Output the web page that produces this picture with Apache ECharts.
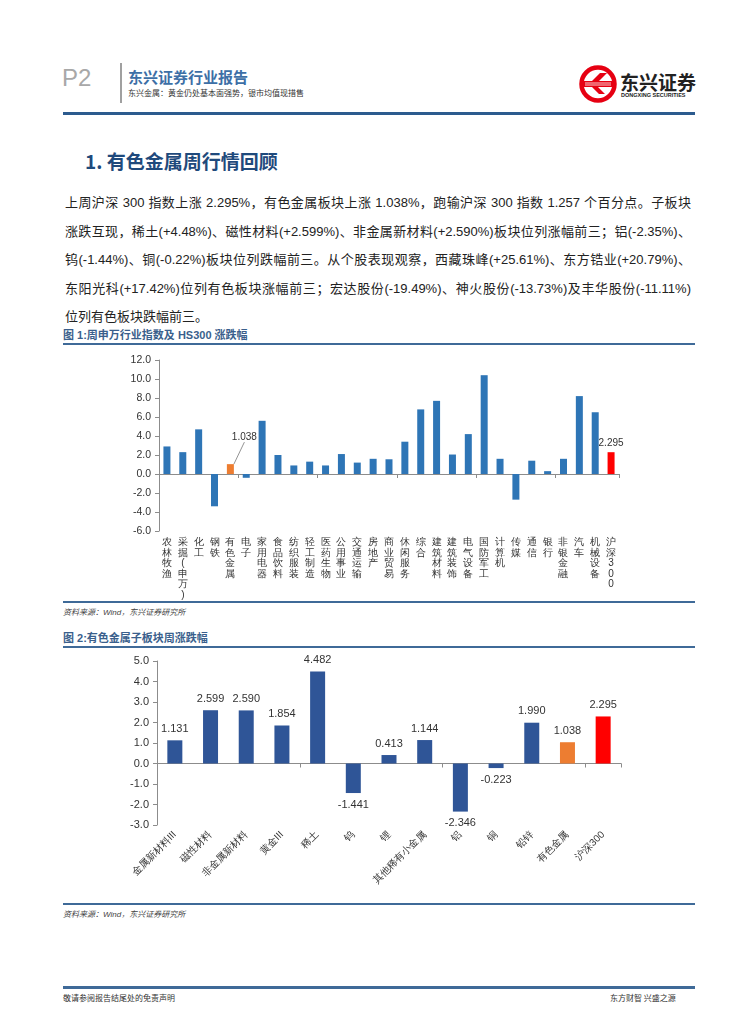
<!DOCTYPE html>
<html><head><meta charset="utf-8">
<script src="https://cdn.jsdelivr.net/npm/echarts@6/dist/echarts.min.js"></script>
<style>
html,body{margin:0;padding:0;background:#fff;}
body{width:755px;height:1024px;position:relative;overflow:hidden;font-family:"Noto Sans CJK SC","Liberation Sans",sans-serif;color:#222;}
.abs{position:absolute;}
.pline{position:absolute;left:65px;width:626px;font-size:13px;line-height:16px;text-align:justify;text-align-last:justify;white-space:nowrap;font-family:"Liberation Sans","Noto Sans CJK SC",sans-serif;color:#222;}
.pline.last{text-align-last:left;}
.ftitle{position:absolute;left:63px;font-size:11px;font-weight:bold;color:#3A5F8C;font-family:"Liberation Sans","Noto Sans CJK SC",sans-serif;}
.hr{position:absolute;left:63px;width:632px;background:#3F6A98;}
.src{position:absolute;left:63px;font-size:8px;font-style:italic;color:#444;font-family:"Liberation Sans","Noto Sans CJK SC",sans-serif;}
</style></head>
<body>
<!-- header -->
<div class="abs" style="left:62px;top:64px;font-size:24px;color:#a8a8a8;font-family:'Liberation Sans',sans-serif;">P2</div>
<div class="abs" style="left:120px;top:63px;width:2px;height:40px;background:#a0a0a0;"></div>
<div class="abs" style="left:128px;top:66px;font-size:15px;font-weight:bold;color:#3D6FA6;">东兴证券行业报告</div>
<div class="abs" style="left:128px;top:87px;font-size:8px;color:#333;">东兴金属：黄金仍处基本面强势，银市均值现措售</div>
<svg class="abs" style="left:577px;top:63px;" width="42" height="42" viewBox="0 0 42 42">
  <circle cx="21" cy="21" r="16.5" fill="#fff" stroke="#E60012" stroke-width="4.5"/>
  <path d="M6 18 L15 18 L23 10 L30 10 L22 18 L36 18 L36 24 L21 24 L28 31 L22 31 L15 24 L6 24 Z" fill="#E60012"/>
  <path d="M8 20 L34 20 M8 22 L34 22" stroke="#fff" stroke-width="0.8"/>
</svg>
<div class="abs" style="left:620px;top:68px;font-size:19px;font-weight:bold;color:#222;">东兴证券</div>
<div class="abs" style="left:621px;top:92px;font-size:5.5px;font-weight:bold;color:#222;font-family:'Liberation Sans',sans-serif;">DONGXING SECURITIES</div>
<div class="abs" style="left:63px;top:112px;width:632px;height:3px;background:#2C5B8E;"></div>

<!-- heading -->
<div class="abs" style="left:85px;top:147px;font-size:19px;font-weight:bold;color:#1F4A7C;">1. 有色金属周行情回顾</div>

<!-- paragraph -->
<div class="pline" style="top:195px;">上周沪深 300 指数上涨 2.295%，有色金属板块上涨 1.038%，跑输沪深 300 指数 1.257 个百分点。子板块</div>
<div class="pline" style="top:224px;">涨跌互现，稀土(+4.48%)、磁性材料(+2.599%)、非金属新材料(+2.590%)板块位列涨幅前三；铝(-2.35%)、</div>
<div class="pline" style="top:252px;">钨(-1.44%)、铜(-0.22%)板块位列跌幅前三。从个股表现观察，西藏珠峰(+25.61%)、东方锆业(+20.79%)、</div>
<div class="pline" style="top:281px;">东阳光科(+17.42%)位列有色板块涨幅前三；宏达股份(-19.49%)、神火股份(-13.73%)及丰华股份(-11.11%)</div>
<div class="pline last" style="top:309px;">位列有色板块跌幅前三。</div>

<!-- figure 1 -->
<div class="ftitle" style="top:326px;">图 1:周申万行业指数及 HS300 涨跌幅</div>
<div class="hr" style="top:343px;height:2px;"></div>
<div id="c1" class="abs" style="left:0;top:345px;width:755px;height:256px;"></div>
<div class="hr" style="top:601px;height:2px;"></div>
<div class="src" style="top:606px;">资料来源：Wind，东兴证券研究所</div>

<!-- figure 2 -->
<div class="ftitle" style="top:629px;">图 2:有色金属子板块周涨跌幅</div>
<div class="hr" style="top:646px;height:2px;"></div>
<div id="c2" class="abs" style="left:0;top:648px;width:755px;height:255px;"></div>
<div class="hr" style="top:903px;height:2px;"></div>
<div class="src" style="top:908px;">资料来源：Wind，东兴证券研究所</div>

<!-- footer -->
<div class="abs" style="left:63px;top:986px;width:632px;height:3px;background:#3F6A98;"></div>
<div class="abs" style="left:63px;top:992px;font-size:8px;color:#333;">敬请参阅报告结尾处的免责声明</div>
<div class="abs" style="left:610px;top:992px;font-size:8px;color:#333;">东方财智 兴盛之源</div>

<script>
// ---------- Figure 1 data ----------
var industryNames = ['农林牧渔','采掘(申万)','化工','钢铁','有色金属','电子','家用电器','食品饮料','纺织服装','轻工制造','医药生物','公用事业','交通运输','房地产','商业贸易','休闲服务','综合','建筑材料','建筑装饰','电气设备','国防军工','计算机','传媒','通信','银行','非银金融','汽车','机械设备','沪深300'];
var industryValues = [2.9, 2.3, 4.7, -3.4, 1.038, -0.4, 5.6, 2.0, 0.9, 1.3, 0.9, 2.1, 1.2, 1.6, 1.55, 3.4, 6.8, 7.7, 2.05, 4.2, 10.4, 1.6, -2.7, 1.4, 0.3, 1.6, 8.2, 6.5, 2.295];
var fig1LabelNames = ['有色金属','沪深300'];
var fig1Ticks = {min: -6, max: 12, interval: 2};

// ---------- Figure 2 data ----------
var subNames = ['金属新材料III','磁性材料','非金属新材料','黄金III','稀土','钨','锂','其他稀有小金属','铝','铜','铅锌','有色金属','沪深300'];
var subValues = [1.131, 2.599, 2.590, 1.854, 4.482, -1.441, 0.413, 1.144, -2.346, -0.223, 1.990, 1.038, 2.295];
var fig2Ticks = {min: -3, max: 5, interval: 1};

var C_BLUE1 = '#2E75B6', C_BLUE2 = '#2F5597', C_ORANGE = '#ED7D31', C_RED = '#FF0000';
function colorFor(name, base){ return name === '有色金属' ? C_ORANGE : (name === '沪深300' ? C_RED : base); }

var txt = '#333';
var axisCol = '#8c8c8c';

// ----- chart 1 -----
var c1 = echarts.init(document.getElementById('c1'), null, {renderer:'canvas'});
var d1 = industryValues.map(function(v,i){
  var n = industryNames[i];
  var item = {value:v, itemStyle:{color:colorFor(n, C_BLUE1)}};
  if (fig1LabelNames.indexOf(n) >= 0) {
    item.label = {show:true, position:'top', distance:4, formatter:function(p){return p.value.toFixed(3);}, fontSize:10, color:txt, fontFamily:'Liberation Sans'};
    if (n === '有色金属') item.labelLine = {show:true, lineStyle:{color:'#777', width:0.8}};
  }
  return item;
});
c1.setOption({
  animation:false,
  grid:{left:159, top:15, width:460, height:171},
  xAxis:[
    {type:'category', data:industryNames, axisLine:{onZero:true, lineStyle:{color:axisCol}}, axisTick:{show:true, length:4, lineStyle:{color:axisCol}}, axisLabel:{show:false}},
    {type:'category', data:industryNames, position:'bottom', axisLine:{show:false}, axisTick:{show:false},
      axisLabel:{interval:0, margin:6, fontSize:10, lineHeight:10.5, color:txt, verticalAlign:'top',
        formatter:function(v){return v.split('').join('\n');}}}
  ],
  yAxis:{type:'value', min:fig1Ticks.min, max:fig1Ticks.max, interval:fig1Ticks.interval,
    axisLine:{show:true, lineStyle:{color:axisCol}}, axisTick:{show:true, length:4, lineStyle:{color:axisCol}},
    splitLine:{show:false}, axisLabel:{fontSize:10.5, color:txt, margin:8, fontFamily:'Liberation Sans', formatter:function(v){return v.toFixed(1);}}},
  series:[{type:'bar', xAxisIndex:0, data:d1, barWidth:7,
    labelLayout:function(p){ if (industryNames[p.dataIndex] === '有色金属') return {dx:14, dy:-18}; return {}; }}]
});

// ----- chart 2 -----
var c2 = echarts.init(document.getElementById('c2'), null, {renderer:'canvas'});
var d2 = subValues.map(function(v,i){
  var n = subNames[i];
  return {value:v, itemStyle:{color:colorFor(n, C_BLUE2)},
    label:{show:true, position: v < 0 ? 'bottom' : 'top', distance:6, fontSize:11, color:txt, fontFamily:'Liberation Sans',
      formatter:function(p){return p.value.toFixed(3);}}};
});
c2.setOption({
  animation:false,
  grid:{left:157, top:13, width:464, height:164},
  xAxis:[
    {type:'category', data:subNames, axisLine:{onZero:true, lineStyle:{color:axisCol}}, axisTick:{show:true, length:4, lineStyle:{color:axisCol}}, axisLabel:{show:false}},
    {type:'category', data:subNames, position:'bottom', axisLine:{show:false}, axisTick:{show:false},
      axisLabel:{interval:0, rotate:45, margin:8, fontSize:10, color:txt}}
  ],
  yAxis:{type:'value', min:fig2Ticks.min, max:fig2Ticks.max, interval:fig2Ticks.interval,
    axisLine:{show:true, lineStyle:{color:axisCol}}, axisTick:{show:true, length:4, lineStyle:{color:axisCol}},
    splitLine:{show:false}, axisLabel:{fontSize:11, color:txt, margin:8, fontFamily:'Liberation Sans', formatter:function(v){return v.toFixed(1);}}},
  series:[{type:'bar', xAxisIndex:0, data:d2, barWidth:15}]
});
</script>
</body></html>
